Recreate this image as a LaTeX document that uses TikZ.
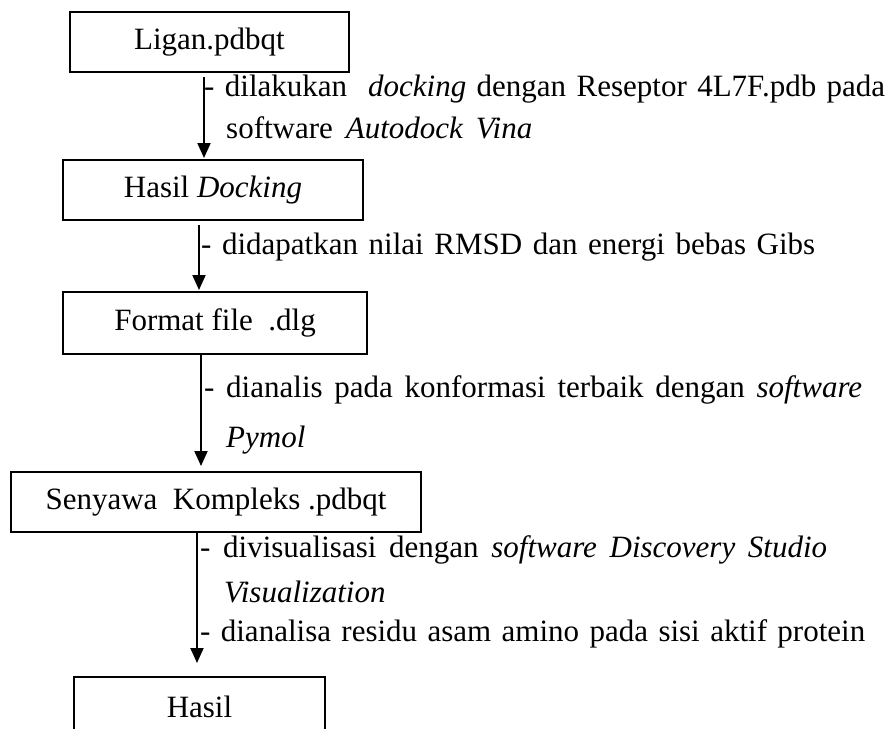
\documentclass[tikz,border=0pt]{standalone}
\usepackage{fontspec}
\setmainfont{Liberation Serif}
\usetikzlibrary{arrows.meta}
\tikzset{
  boxnode/.style={draw=black, line width=2pt, rectangle, inner sep=0pt, font=\fontsize{31}{37}\selectfont},
  txt/.style={anchor=base west, inner sep=0pt, font=\fontsize{31}{37}\selectfont},
  arr/.style={line width=2pt, -{Triangle[width=13pt,length=15pt]}}
}
\begin{document}
\begin{tikzpicture}[x=1pt,y=-1pt]
\useasboundingbox (0,0) rectangle (890,728);
\clip (0,0) rectangle (890,728);
% boxes
\node[boxnode, minimum width=279pt, minimum height=60pt] (b1) at (209.5,42) {Ligan.pdbqt};
\node[boxnode, minimum width=300pt, minimum height=60pt] (b2) at (213,190) {Hasil \textit{Docking}};
\node[boxnode, minimum width=304pt, minimum height=62pt] (b3) at (215,323) {Format file \ .dlg};
\node[boxnode, minimum width=410pt, minimum height=60pt] (b4) at (216,502) {Senyawa \ Kompleks .pdbqt};
\node[boxnode, minimum width=251pt, minimum height=60pt] (b5) at (199.5,707) {Hasil};
% connector ends
\coordinate (a1s) at (204,77);  \coordinate (a1e) at (204,158);
\coordinate (a2s) at (199,225); \coordinate (a2e) at (199,290);
\coordinate (a3s) at (201,354); \coordinate (a3e) at (201,466);
\coordinate (a4s) at (197,533); \coordinate (a4e) at (197,663);
\draw[arr] (a1s) -- (a1e);
\draw[arr] (a2s) -- (a2e);
\draw[arr] (a3s) -- (a3e);
\draw[arr] (a4s) -- (a4e);
% labels
\node[txt] (t1) at (204,96) {\makebox[681pt][s]{- dilakukan \ \textit{docking} dengan Reseptor 4L7F.pdb pada}};
\node[txt] (t2) at (226,138) {\makebox[306pt][s]{software \textit{Autodock Vina}}};
\node[txt] (t3) at (201,254) {\makebox[614pt][s]{- didapatkan nilai RMSD dan energi bebas Gibs}};
\node[txt] (t4) at (204,397) {\makebox[658pt][s]{- dianalis pada konformasi terbaik dengan \textit{software}}};
\node[txt] (t5) at (226,447) {\textit{Pymol}};
\node[txt] (t6) at (200,557) {\makebox[627pt][s]{- divisualisasi dengan \textit{software Discovery Studio}}};
\node[txt] (t7) at (224,602) {\textit{Visualization}};
\node[txt] (t8) at (200,641) {\makebox[665pt][s]{- dianalisa residu asam amino pada sisi aktif protein}};
\end{tikzpicture}
\end{document}
